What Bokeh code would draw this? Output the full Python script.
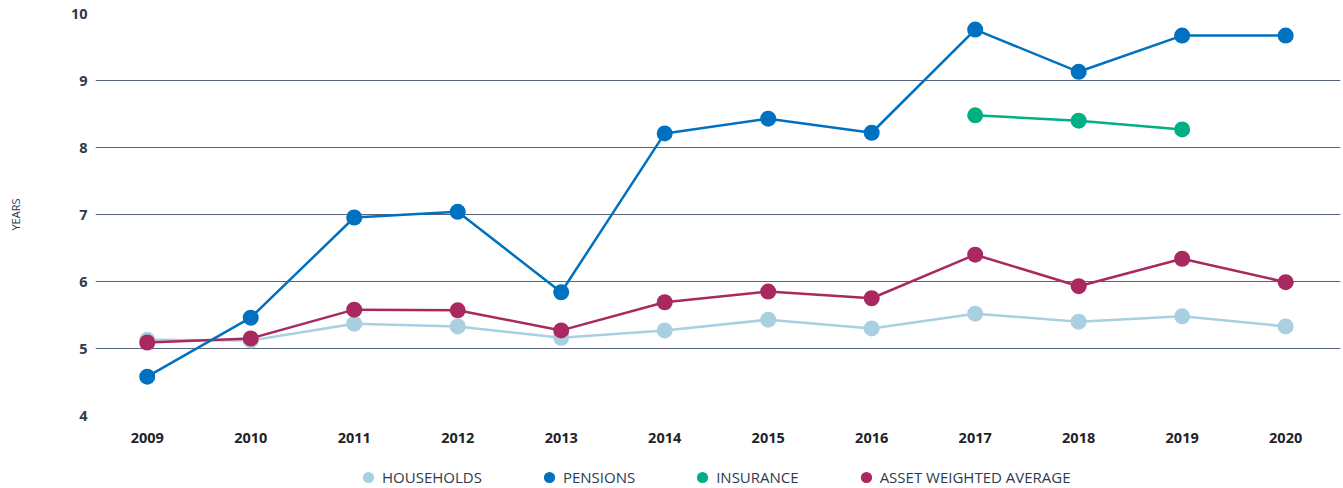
from bokeh.plotting import figure
from bokeh.models import Legend, LegendItem, FixedTicker, Range1d
from bokeh.layouts import column
from bokeh.embed import file_html
from bokeh.resources import INLINE

years = [2009, 2010, 2011, 2012, 2013, 2014, 2015, 2016, 2017, 2018, 2019, 2020]
households = [5.13, 5.12, 5.37, 5.33, 5.16, 5.27, 5.43, 5.30, 5.52, 5.40, 5.48, 5.33]
pensions = [4.58, 5.46, 6.955, 7.04, 5.84, 8.21, 8.43, 8.22, 9.76, 9.13, 9.67, 9.67]
insurance_years = [2017, 2018, 2019]
insurance = [8.48, 8.40, 8.27]
awa = [5.09, 5.15, 5.58, 5.57, 5.27, 5.69, 5.85, 5.75, 6.40, 5.93, 6.34, 5.99]
y_ticks = [4, 5, 6, 7, 8, 9, 10]

C_HH = "#a8d0e1"
C_PEN = "#0070c0"
C_INS = "#00b083"
C_AWA = "#a8285f"

series = [
    ("HOUSEHOLDS", years, households, C_HH),
    ("PENSIONS", years, pensions, C_PEN),
    ("INSURANCE", insurance_years, insurance, C_INS),
    ("ASSET WEIGHTED AVERAGE", years, awa, C_AWA),
]

# ---- main chart ----
p = figure(width=1343, height=456, output_backend="svg", toolbar_location=None,
           x_range=(2008.5, 2020.53), y_range=(4, 10),
           min_border_left=95, min_border_right=3, min_border_top=13, min_border_bottom=41)
p.outline_line_color = None
p.background_fill_color = "white"
p.border_fill_color = "white"

for i in [0, 3, 1, 2]:
    name, xs, ys, c = series[i]
    p.line(xs, ys, line_color=c, line_width=2.5)
    p.scatter(xs, ys, size=16, fill_color=c, line_color=c, line_width=0)

p.xgrid.grid_line_color = None
p.ygrid.grid_line_color = "#56637a"
p.ygrid.grid_line_width = 1.2
p.ygrid.ticker = FixedTicker(ticks=y_ticks)

p.xaxis.ticker = FixedTicker(ticks=years)
p.yaxis.ticker = FixedTicker(ticks=y_ticks)
for ax in (p.xaxis, p.yaxis):
    ax.axis_line_color = None
    ax.major_tick_line_color = None
    ax.minor_tick_line_color = None
    ax.major_tick_out = 0
    ax.major_tick_in = 0
    ax.major_label_text_font = "Open Sans"
    ax.major_label_text_font_style = "bold"
    ax.major_label_text_font_size = "14.5px"
p.xaxis.major_label_text_color = "#1f2328"
p.yaxis.major_label_text_color = "#2d3a4f"
p.xaxis.major_label_standoff = 17
p.yaxis.major_label_standoff = 8
p.yaxis.axis_label = "YEARS"
p.yaxis.axis_label_text_font = "Open Sans"
p.yaxis.axis_label_text_font_style = "normal"
p.yaxis.axis_label_text_font_size = "11px"
p.yaxis.axis_label_text_color = "#2d3a4f"
p.yaxis.axis_label_standoff = 45

# ---- legend strip (same data, plotted out of its view so only the legend shows) ----
lg = figure(width=1343, height=32, output_backend="svg", toolbar_location=None,
            x_range=Range1d(0, 1), y_range=Range1d(0, 1),
            x_axis_type=None, y_axis_type=None,
            min_border_left=0, min_border_right=0, min_border_top=0, min_border_bottom=0)
lg.outline_line_color = None
lg.background_fill_color = "white"
lg.border_fill_color = "white"
items = []
for name, xs, ys, c in series:
    r = lg.scatter(xs, ys, size=12, fill_color=c, line_color=c, line_width=0)
    items.append(LegendItem(label=name, renderers=[r]))

legend = Legend(items=items, orientation="horizontal", location=(259, -3),
                border_line_color=None, background_fill_alpha=0,
                glyph_width=28, glyph_height=28, label_standoff=0, spacing=53,
                padding=0, margin=0, label_text_font="Open Sans", label_text_font_size="15px",
                label_text_color="#2d3a4f", label_height=20)
lg.add_layout(legend, "center")

layout = column(p, lg, spacing=0)
open("out.html", "w").write(file_html(layout, INLINE))
